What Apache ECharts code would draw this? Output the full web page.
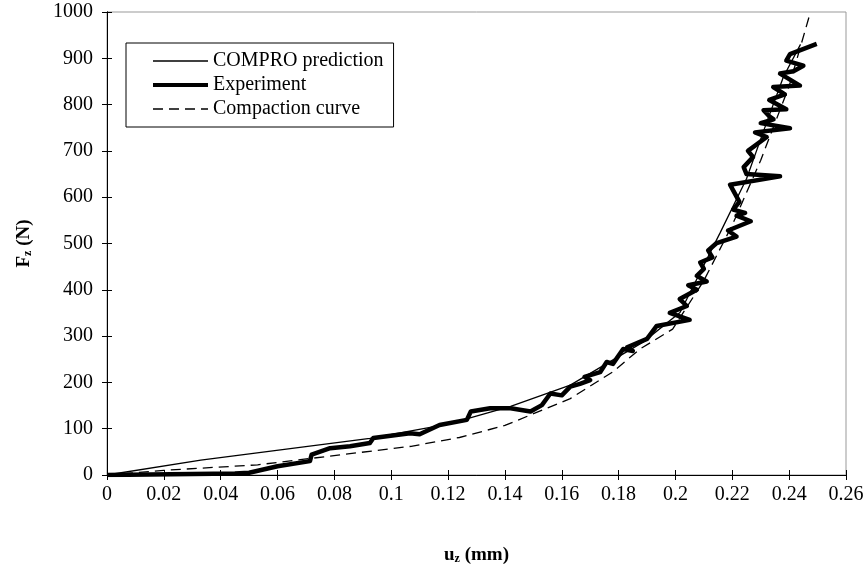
<!DOCTYPE html>
<html>
<head>
<meta charset="utf-8">
<title>Fz vs uz</title>
<script src="https://cdn.jsdelivr.net/npm/echarts@6.0.0/dist/echarts.min.js"></script>
<style>
html,body{margin:0;padding:0;background:#fff;}
#main{width:868px;height:570px;}
</style>
</head>
<body>
<div id="main"></div>
<script>
// COMPRO prediction (thin solid)
var comproU = [0, 0.033, 0.0925, 0.12, 0.142, 0.163, 0.1886, 0.2016, 0.2157, 0.225, 0.232, 0.238, 0.244];
var comproF = [0, 32, 79, 110, 148, 194, 287, 351, 523, 640, 760, 860, 930];

// Experiment (thick, noisy)
var expU = [0, 0.03, 0.045, 0.05, 0.06, 0.0714, 0.072, 0.0785, 0.0855, 0.0925, 0.0937, 0.1066, 0.110, 0.117,
  0.1266, 0.128, 0.1348, 0.142, 0.149, 0.153, 0.156, 0.160, 0.163, 0.1664, 0.170, 0.168, 0.1735, 0.1758, 0.178,
  0.1816, 0.185, 0.183, 0.19, 0.1934, 0.205, 0.198, 0.204, 0.2015, 0.2075, 0.2045, 0.211, 0.2075, 0.210, 0.2087,
  0.213, 0.2115, 0.2145, 0.2215, 0.2185, 0.2265, 0.2215, 0.2245, 0.2203, 0.2225, 0.2192, 0.2368, 0.225, 0.224,
  0.2273, 0.2255, 0.2321, 0.228, 0.2403, 0.23, 0.2345, 0.233, 0.231, 0.239, 0.233, 0.2385, 0.2344, 0.2438,
  0.2368, 0.2415, 0.245, 0.239, 0.2403, 0.2497];
var expF = [0, 2, 3, 5, 19, 30, 44, 58, 62, 69, 80, 90, 88, 108,
  119, 137, 144, 144, 137, 151, 176, 172, 191, 197, 205, 212, 222, 244, 240,
  272, 268, 276, 294, 322, 335, 350, 365, 380, 400, 410, 418, 430, 445, 459,
  470, 485, 501, 515, 528, 548, 560, 566, 573, 590, 627, 645, 650, 665,
  687, 700, 730, 740, 749, 760, 768, 775, 788, 790, 810, 822, 838, 841,
  867, 872, 884, 895, 909, 931];

// Compaction curve (dashed)
var compU = [0, 0.02, 0.053, 0.107, 0.124, 0.14, 0.163, 0.178, 0.1875, 0.199, 0.21, 0.22, 0.23, 0.24, 0.2475];
var compF = [0, 10, 22, 62, 81, 107, 165, 223, 272, 315, 420, 540, 680, 840, 1000];

function pairs(xs, ys) {
  var out = [];
  for (var i = 0; i < xs.length; i++) out.push([xs[i], ys[i]]);
  return out;
}

var font = 'Liberation Serif';
var chart = echarts.init(document.getElementById('main'));

var xBase = {
  type: 'value',
  min: 0,
  max: 0.26,
  interval: 0.02,
  position: 'bottom',
  splitLine: {show: false},
  axisLine: {lineStyle: {color: '#000', width: 1}}
};
var yBase = {
  type: 'value',
  min: 0,
  max: 1000,
  interval: 100,
  position: 'left',
  splitLine: {show: false},
  axisLine: {lineStyle: {color: '#000', width: 1}}
};

var option = {
  animation: false,
  backgroundColor: '#fff',
  grid: {
    left: 107, right: 22, top: 12, bottom: 93,
    show: true, borderColor: '#999', borderWidth: 1, backgroundColor: 'transparent'
  },
  legend: {
    orient: 'vertical',
    left: 126,
    top: 43,
    padding: [8, 10, 8, 25],
    itemWidth: 55,
    itemHeight: 14,
    itemGap: 4,
    borderColor: '#000',
    borderWidth: 1,
    backgroundColor: '#fff',
    itemStyle: {opacity: 0},
    textStyle: {fontFamily: font, fontSize: 20, color: '#000', lineHeight: 20},
    data: [
      {name: 'COMPRO prediction', lineStyle: {color: '#000', width: 1.5}},
      {name: 'Experiment', lineStyle: {color: '#000', width: 4}},
      {name: 'Compaction curve', lineStyle: {color: '#000', width: 1.5, type: [10, 6]}}
    ]
  },
  xAxis: [
    Object.assign({}, xBase, {
      name: '{b|u}{s|z}{b| (mm)}',
      nameLocation: 'middle',
      nameGap: 70,
      nameTextStyle: {
        rich: {
          b: {fontFamily: font, fontSize: 19, fontWeight: 'bold', color: '#000'},
          s: {fontFamily: font, fontSize: 12, fontWeight: 'bold', color: '#000', padding: [8, 0, 0, 0]}
        }
      },
      axisTick: {show: true, inside: false, length: 5, lineStyle: {color: '#000'}},
      axisLabel: {fontFamily: font, fontSize: 20, color: '#000', margin: 10}
    }),
    Object.assign({}, xBase, {
      axisTick: {show: true, inside: true, length: 5, lineStyle: {color: '#000'}},
      axisLabel: {show: false}
    })
  ],
  yAxis: [
    Object.assign({}, yBase, {
      name: '{b|F}{s|z}{b| (N)}',
      nameLocation: 'middle',
      nameGap: 73,
      nameRotate: 90,
      nameTextStyle: {
        rich: {
          b: {fontFamily: font, fontSize: 19, fontWeight: 'bold', color: '#000'},
          s: {fontFamily: font, fontSize: 12, fontWeight: 'bold', color: '#000', padding: [8, 0, 0, 0]}
        }
      },
      axisTick: {show: true, inside: false, length: 5, lineStyle: {color: '#000'}},
      axisLabel: {
        fontFamily: font, fontSize: 20, color: '#000', margin: 14,
        formatter: function (v) { return String(v); }
      }
    }),
    Object.assign({}, yBase, {
      axisTick: {show: true, inside: true, length: 5, lineStyle: {color: '#000'}},
      axisLabel: {show: false}
    })
  ],
  series: [
    {
      name: 'COMPRO prediction',
      type: 'line',
      symbol: 'none',
      data: pairs(comproU, comproF),
      lineStyle: {color: '#000', width: 1.3},
      itemStyle: {color: '#000'},
      z: 4
    },
    {
      name: 'Experiment',
      type: 'line',
      symbol: 'none',
      data: pairs(expU, expF),
      lineStyle: {color: '#000', width: 4.5, join: 'round'},
      itemStyle: {color: '#000'},
      z: 3
    },
    {
      name: 'Compaction curve',
      type: 'line',
      symbol: 'none',
      data: pairs(compU, compF),
      lineStyle: {color: '#000', width: 1.3, type: [10, 6]},
      itemStyle: {color: '#000'},
      z: 2
    }
  ]
};

chart.setOption(option);
</script>
</body>
</html>
